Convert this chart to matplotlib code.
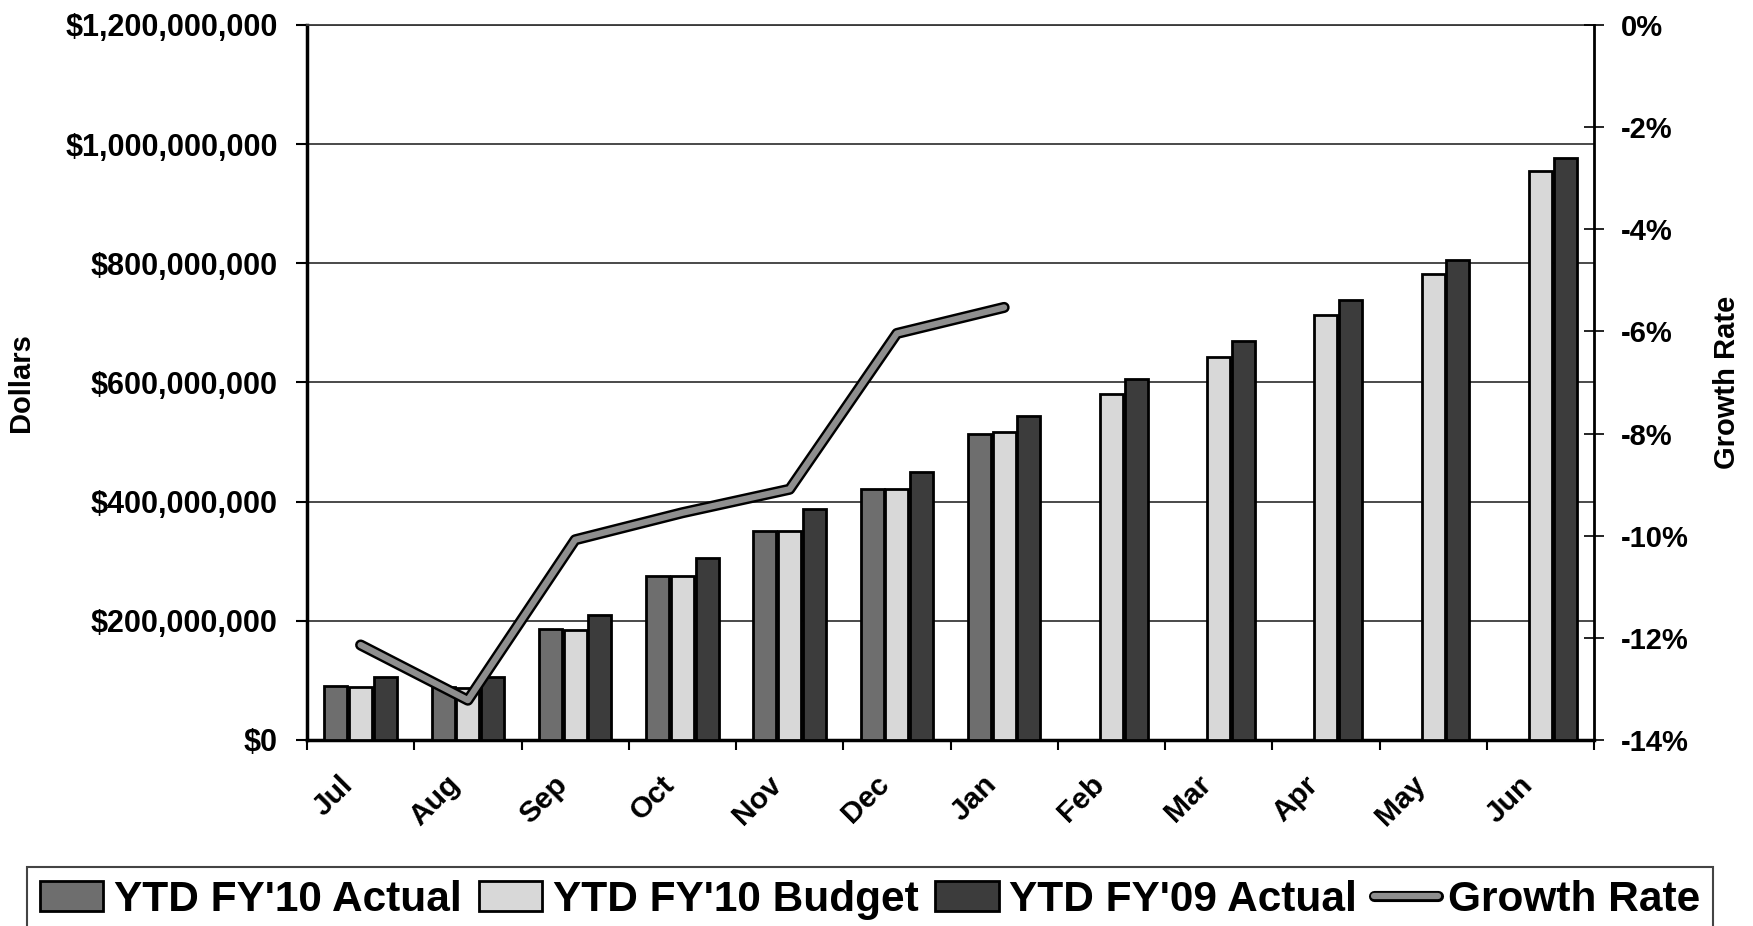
import numpy as np
import matplotlib
matplotlib.use("Agg")
import matplotlib.pyplot as plt
import matplotlib.patheffects as pe
from matplotlib.ticker import FuncFormatter
from matplotlib.transforms import ScaledTranslation

# donnees (en millions de dollars)
mois = ["Jul", "Aug", "Sep", "Oct", "Nov", "Dec", "Jan", "Feb", "Mar", "Apr", "May", "Jun"]
ytd_fy10_actual = [90, 89, 187, 276, 351, 421, 514]
ytd_fy10_budget = [89, 88, 185, 276, 350, 422, 517, 580, 643, 713, 782, 955]
ytd_fy09_actual = [105, 105, 210, 306, 387, 449, 544, 606, 669, 738, 806, 976]
growth_rate = [-12.14, -13.22, -10.08, -9.55, -9.09, -6.04, -5.53]  # en %

plt.rcParams["font.family"] = ["Liberation Sans", "DejaVu Sans"]
plt.rcParams["font.weight"] = "bold"

fig = plt.figure(figsize=(17.53, 9.26), dpi=100)
fig.subplots_adjust(left=307 / 1753, right=1594 / 1753, top=1 - 25 / 926, bottom=1 - 740 / 926)
ax = fig.add_subplot(111)

x = np.arange(len(mois))
largeur = 0.215
ecart = 0.23

b1 = ax.bar(x[:len(ytd_fy10_actual)] - ecart, np.array(ytd_fy10_actual) * 1e6, largeur,
            color="#6e6e6e", edgecolor="black", linewidth=2, label="YTD FY'10 Actual", zorder=3)
b2 = ax.bar(x, np.array(ytd_fy10_budget) * 1e6, largeur,
            color="#d8d8d8", edgecolor="black", linewidth=2, label="YTD FY'10 Budget", zorder=3)
b3 = ax.bar(x + ecart, np.array(ytd_fy09_actual) * 1e6, largeur,
            color="#3c3c3c", edgecolor="black", linewidth=2, label="YTD FY'09 Actual", zorder=3)

ax.set_xlim(-0.5, len(mois) - 0.5)
ax.set_ylim(0, 1.2e9)
ax.set_yticks(np.arange(0, 1.2e9 + 1, 2e8))
ax.yaxis.set_major_formatter(FuncFormatter(lambda v, p: "${:,.0f}".format(v)))
ax.grid(axis="y", color="#3a3a3a", linewidth=1.3)
ax.set_axisbelow(True)

# graduations aux limites des categories, etiquettes au centre
ax.set_xticks(np.arange(-0.5, len(mois), 1))
ax.set_xticklabels([])
ax.set_xticks(x, minor=True)
ax.set_xticklabels(mois, minor=True, rotation=45, ha="right", va="center",
                   rotation_mode="anchor", fontsize=21.5, fontweight="bold")
ax.tick_params(axis="x", which="major", direction="out", length=7, width=1.5)
ax.tick_params(axis="x", which="minor", length=0, pad=29)
for lab in ax.get_xticklabels(minor=True):
    lab.set_transform(lab.get_transform() + ScaledTranslation(-0.12, 0, fig.dpi_scale_trans))

ax.tick_params(axis="y", direction="out", length=8, width=1.5, pad=13, labelsize=22)
for s in ["left", "bottom"]:
    ax.spines[s].set_linewidth(2.5)
ax.spines["top"].set_linewidth(1.3)
ax.spines["top"].set_color("#3a3a3a")
ax.spines["right"].set_visible(False)

ax.set_ylabel("Dollars", fontsize=21, fontweight="bold")
ax.yaxis.set_label_coords(-0.2115, 0.5)

# axe de droite : taux de croissance
ax2 = ax.twinx()
ligne, = ax2.plot(x[:len(growth_rate)], growth_rate, color="#8e8e8e", linewidth=4.5,
                  solid_capstyle="round", solid_joinstyle="round", label="Growth Rate",
                  path_effects=[pe.Stroke(linewidth=8, foreground="black"), pe.Normal()])
ax2.set_ylim(-14, 0)
ax2.set_yticks(np.arange(-14, 0.1, 2))
ax2.yaxis.set_major_formatter(FuncFormatter(lambda v, p: "{:.0f}%".format(v)))
for lab in ax2.get_yticklabels():
    lab.set_horizontalalignment("left")
ax2.tick_params(axis="y", direction="inout", length=14, width=1.2, pad=12, labelsize=21)
ax2.spines["right"].set_linewidth(2)
for s in ["left", "top", "bottom"]:
    ax2.spines[s].set_visible(False)
ax2.set_ylabel("Growth Rate", fontsize=21, fontweight="bold")
ax2.yaxis.set_label_coords(1.0925, 0.5)

leg = fig.legend([b1, b2, b3, ligne],
                 ["YTD FY'10 Actual", "YTD FY'10 Budget", "YTD FY'09 Actual", "Growth Rate"],
                 loc="upper left", bbox_to_anchor=(27 / 1753, 1 - 867 / 926), ncol=4,
                 fancybox=False, edgecolor="#444444", framealpha=1,
                 handlelength=1.5, handleheight=0.7, handletextpad=0.25,
                 columnspacing=0.4, borderpad=0.3, borderaxespad=0,
                 prop={"size": 30.5, "weight": "bold"})
leg.get_frame().set_linewidth(1.5)

fig.savefig("out.png", dpi=100)
